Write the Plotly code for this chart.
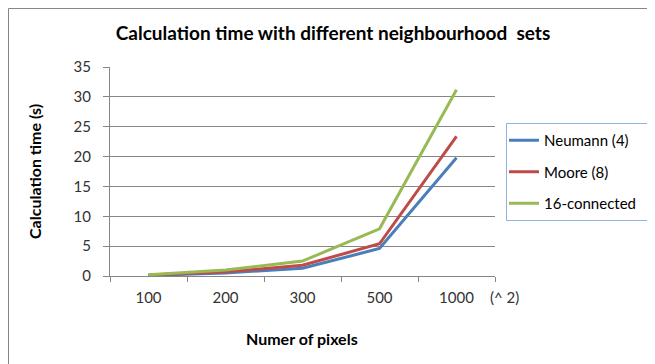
import plotly.graph_objects as go

categories = ["100", "200", "300", "500", "1000"]
neumann = [0.1, 0.5, 1.3, 4.6, 19.8]
moore = [0.15, 0.7, 1.8, 5.4, 23.4]
connected16 = [0.2, 1.0, 2.5, 7.9, 31.2]
series_names = ["Neumann (4)", "Moore (8)", "16-connected"]
colors = ["#4a7ebb", "#be4b48", "#98b954"]
y_ticks = [0, 5, 10, 15, 20, 25, 30, 35]

FONT = "Lato, 'Open Sans', sans-serif"

fig = go.Figure()
for i, (name, vals) in enumerate(zip(series_names, [neumann, moore, connected16])):
    fig.add_trace(go.Scatter(
        x=categories, y=vals, mode="lines", name=name,
        line=dict(color=colors[i], width=3), legendgroup=f"g{i}",
    ))

OFF = 8  # page body margin
W, H = 655 - OFF, 364 - OFF
L, R, T, B = 110 - OFF, 160, 67 - OFF, 88
PW, PH = W - L - R, H - T - B


def px(x):
    return (x - OFF - L) / PW


def py(y):
    return (H - B - (y - OFF)) / PH


fig.update_layout(
    width=W, height=H,
    margin=dict(l=L, r=R, t=T, b=B, autoexpand=False),
    paper_bgcolor="white", plot_bgcolor="white",
    font=dict(family=FONT, size=13, color="#000000"),
    title=dict(text="<b>Calculation time with different neighbourhood  sets</b>",
               x=(333 - OFF) / W, xanchor="center", y=1 - (33 - OFF) / H, yanchor="middle",
               font=dict(size=19, family=FONT, color="#000000")),
    showlegend=True,
    legend=dict(x=px(504), xanchor="left", y=py(124), yanchor="top",
                borderwidth=0, bgcolor="rgba(0,0,0,0)",
                font=dict(size=15, family=FONT, color="#000000"),
                tracegroupgap=9, traceorder="grouped",
                itemwidth=30),
    xaxis=dict(type="category", tickson="boundaries", ticks="outside", ticklen=5,
               tickcolor="#868686", showline=True, linecolor="#868686", linewidth=1,
               showgrid=False, tickfont=dict(size=15, color="#333333"),
               ticklabelstandoff=8, range=[-0.5, 4.5], automargin=False),
    yaxis=dict(range=[0, 35], tickvals=y_ticks, ticks="outside", ticklen=6,
               tickcolor="#868686", showline=True, linecolor="#868686", linewidth=1,
               showgrid=True, gridcolor="#868686", gridwidth=1, zeroline=False,
               tickfont=dict(size=15, color="#333333"), ticklabelstandoff=9,
               automargin=False),
    shapes=[
        dict(type="rect", xref="paper", yref="paper",
             x0=px(8.5), x1=px(700), y0=py(400), y1=py(8.5),
             line=dict(color="#868686", width=1), layer="below"),
        dict(type="rect", xref="paper", yref="paper",
             x0=px(506.5), x1=px(651.5), y0=py(220.5), y1=py(123.5),
             line=dict(color="#8db3e2", width=1), fillcolor="white", layer="below"),
    ],
    annotations=[
        dict(text="<b>Calculation time (s)</b>", textangle=-90, xref="paper", yref="paper",
             x=px(34), y=py(172), xanchor="center", yanchor="middle", showarrow=False,
             font=dict(size=16, family=FONT, color="#000000")),
        dict(text="<b>Numer of pixels</b>", xref="paper", yref="paper",
             x=px(302), y=py(338), xanchor="center", yanchor="middle", showarrow=False,
             font=dict(size=16, family=FONT, color="#000000")),
        dict(text="(^ 2)", xref="paper", yref="paper",
             x=px(488), y=py(297), xanchor="left", yanchor="middle", showarrow=False,
             font=dict(size=15, family=FONT, color="#333333")),
    ],
)

fig.write_html("out.html")
